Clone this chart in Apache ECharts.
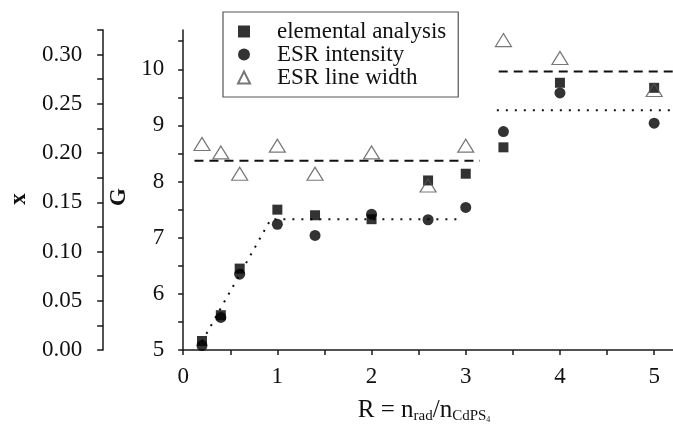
<!DOCTYPE html>
<html>
<head>
<meta charset="utf-8">
<script src="https://cdn.jsdelivr.net/npm/echarts@6/dist/echarts.min.js"></script>
<style>
html,body{margin:0;padding:0;background:#fff;}
#chart{width:673px;height:429px;}
</style>
</head>
<body>
<div id="chart"></div>
<script>
// ---- data ----
const R = [0.2, 0.4, 0.6, 1.0, 1.4, 2.0, 2.6, 3.0, 3.4, 4.0, 5.0];
const elemental = [5.16, 5.62, 6.45, 7.50, 7.40, 7.33, 8.02, 8.14, 8.61, 9.76, 9.67];
const esrIntensity = [5.08, 5.58, 6.35, 7.24, 7.04, 7.42, 7.32, 7.54, 8.89, 9.58, 9.04];
const esrLineWidth = [8.67, 8.52, 8.14, 8.64, 8.14, 8.52, 7.93, 8.64, 10.52, 10.20, 9.63];

// guide lines (R, G)
const dashedLow = [[0.12, 8.37], [3.15, 8.37]];
const dashedHigh = [[3.35, 9.96], [5.2, 9.96]];
const dottedLow = [[0.2, 5.15], [0.93, 7.33], [2.93, 7.33]];
const dottedHigh = [[3.33, 9.27], [5.2, 9.27]];

const rTickLabels = [0, 1, 2, 3, 4, 5];
const rTicks = [0, 0.5, 1, 1.5, 2, 2.5, 3, 3.5, 4, 4.5, 5];
const gTickLabels = [5, 6, 7, 8, 9, 10];
const gTicks = [5, 5.5, 6, 6.5, 7, 7.5, 8, 8.5, 9, 9.5, 10, 10.5];
const xTickLabels = [0, 0.05, 0.10, 0.15, 0.20, 0.25, 0.30];
const xTicks = [0, 0.025, 0.05, 0.075, 0.10, 0.125, 0.15, 0.175, 0.20, 0.225, 0.25, 0.275, 0.30, 0.325];

const seriesNames = ['elemental analysis', 'ESR intensity', 'ESR line width'];

const FONT = 'Liberation Serif';
const FS = 23;
const pair = (xs, ys) => xs.map((x, i) => [x, ys[i]]);

const axisLineStyle = { color: '#1a1a1a', width: 1.5 };
const chart = echarts.init(document.getElementById('chart'), null, { renderer: 'canvas' });

const guide = (data, type) => ({
  type: 'line', data: data, showSymbol: false, silent: true, z: 1,
  lineStyle: { color: '#111', width: 2, type: type },
  animation: false
});

chart.setOption({
  animation: false,
  backgroundColor: '#fff',
  grid: { left: 178, right: 0, top: 30, bottom: 76, containLabel: false },
  legend: {
    data: seriesNames,
    orient: 'vertical',
    left: 223, top: 12,
    padding: [8, 12, 8, 14],
    itemGap: 0,
    itemWidth: 12, itemHeight: 12,
    borderColor: '#555', borderWidth: 1.2,
    backgroundColor: '#fff',
    selectedMode: false,
    textStyle: { fontFamily: FONT, fontSize: FS, color: '#111', lineHeight: 23, padding: [0, 0, 0, 22] }
  },
  xAxis: {
    type: 'value', min: 0, max: 5.2,
    name: '{n|R = n}{sub|rad}{n|/n}{sub|CdPS}{sub2|4}',
    nameLocation: 'middle', nameGap: 46,
    nameTextStyle: {
      padding: [0, 8, 0, 0],
      rich: {
        n: { fontFamily: FONT, fontSize: 25, color: '#111' },
        sub: { fontFamily: FONT, fontSize: 15, color: '#111', verticalAlign: 'bottom', padding: [13, 0, 0, 0] },
        sub2: { fontFamily: FONT, fontSize: 8, color: '#111', verticalAlign: 'bottom', padding: [15, 0, 0, 0] }
      }
    },
    axisLine: { show: true, onZero: false, lineStyle: axisLineStyle },
    axisTick: { show: true, length: 5, customValues: rTicks, lineStyle: axisLineStyle },
    axisLabel: { customValues: rTickLabels, fontFamily: FONT, fontSize: FS, color: '#111', margin: 15 },
    splitLine: { show: false }
  },
  yAxis: [
    {
      type: 'value', min: 5, max: 10.7, position: 'left',
      name: 'G', nameLocation: 'middle', nameGap: 50, nameRotate: 90,
      nameTextStyle: { fontFamily: FONT, fontSize: FS, fontWeight: 'bold', color: '#111', padding: [0, 14, 0, 0] },
      axisLine: { show: true, onZero: false, lineStyle: axisLineStyle },
      axisTick: { show: true, length: 5, customValues: gTicks, lineStyle: axisLineStyle },
      axisLabel: { customValues: gTickLabels, fontFamily: FONT, fontSize: FS, color: '#111', margin: 19 },
      splitLine: { show: false }
    },
    {
      type: 'value', min: 0, max: 0.325, position: 'left', offset: 80,
      name: 'x', nameLocation: 'middle', nameGap: 70, nameRotate: 90,
      nameTextStyle: { fontFamily: FONT, fontSize: FS, fontWeight: 'bold', color: '#111', padding: [0, 18, 0, 0] },
      axisLine: { show: true, onZero: false, lineStyle: axisLineStyle },
      axisTick: { show: true, length: 6, customValues: xTicks, lineStyle: axisLineStyle },
      axisLabel: { customValues: xTickLabels, fontFamily: FONT, fontSize: FS, color: '#111', margin: 21,
        formatter: v => Number(v).toFixed(2) },
      splitLine: { show: false }
    }
  ],
  series: [
    guide(dashedLow, [9, 6]),
    guide(dashedHigh, [9, 6]),
    guide(dottedLow, [2, 7]),
    guide(dottedHigh, [2, 7]),
    {
      name: seriesNames[0], type: 'scatter', data: pair(R, elemental),
      symbol: 'rect', symbolSize: 10, z: 3,
      itemStyle: { color: '#000' }
    },
    {
      name: seriesNames[1], type: 'scatter', data: pair(R, esrIntensity),
      symbol: 'circle', symbolSize: 11, z: 3,
      itemStyle: { color: '#000' }
    },
    {
      name: seriesNames[2], type: 'scatter', data: pair(R, esrLineWidth),
      symbol: 'triangle', symbolSize: [16, 13], z: 4,
      itemStyle: { color: 'rgba(255,255,255,0)', borderColor: '#555', borderWidth: 1.2 }
    }
  ]
});
</script>
</body>
</html>
